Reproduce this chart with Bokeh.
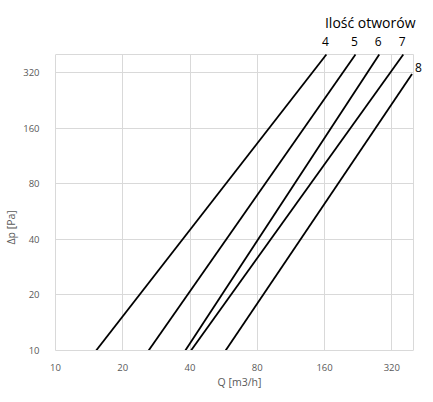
import math
from bokeh.plotting import figure
from bokeh.models import FixedTicker, Range1d, ColumnDataSource, Title
from bokeh.core.properties import value
from bokeh.embed import file_html
from bokeh.resources import INLINE

# Data (log-log lines, Q [m3/h] vs dp [Pa])
counts = ["4", "5", "6", "7", "8"]
q_start = [15.2, 26.1, 38.1, 40.4, 57.7]
p_start = [10, 10, 10, 10, 10]
q_end = [163, 220, 281, 360, 394]
p_end = [400, 400, 400, 400, 314]

x_ticks = [10, 20, 40, 80, 160, 320]
y_ticks = [10, 20, 40, 80, 160, 320]
x_tick_labels = ["10", "20", "40", "80", "160", "320"]
y_tick_labels = ["10", "20", "40", "80", "160", "320"]
axis_min, axis_max = 10, 400

title_text = "Ilość otworów"
x_label = "Q [m3/h]"
y_label = "Δp [Pa]"

FONT = "Open Sans"
GRAY_TXT = "#595959"
GRID = "#d9d9d9"

# layout (pixels)
BOX_W, BOX_H = 358, 296          # visible plot box
FRAME_W, FRAME_H = 368, 350      # frame incl. room for labels above/right
octaves = math.log2(axis_max / axis_min)
x_hi = axis_max * 2 ** ((FRAME_W - BOX_W) / (BOX_W / octaves))
y_hi = axis_max * 2 ** ((FRAME_H - BOX_H) / (BOX_H / octaves))

p = figure(frame_width=FRAME_W, frame_height=FRAME_H, x_axis_type="log", y_axis_type="log",
           x_range=Range1d(axis_min, x_hi), y_range=Range1d(axis_min, y_hi),
           output_backend="svg", toolbar_location=None,
           min_border_left=49, min_border_right=0, min_border_top=0, min_border_bottom=36)

p.background_fill_color = "white"
p.border_fill_color = "white"
p.outline_line_color = None

for ax, ticks, labels in ((p.xaxis, x_ticks, x_tick_labels), (p.yaxis, y_ticks, y_tick_labels)):
    ax.ticker = FixedTicker(ticks=ticks)
    ax.bounds = (axis_min, axis_max)
    ax.major_label_overrides = {t: l for t, l in zip(ticks, labels)}
    ax.major_tick_line_color = None
    ax.minor_tick_line_color = None
    ax.axis_line_color = GRID
    ax.major_label_text_font = FONT
    ax.major_label_text_font_size = "9.5px"
    ax.major_label_text_color = GRAY_TXT
    ax.axis_label_text_font = FONT
    ax.axis_label_text_font_size = "10.5px"
    ax.axis_label_text_color = GRAY_TXT
    ax.axis_label_text_font_style = "normal"

p.xaxis.axis_label = x_label
p.xaxis.major_label_standoff = 7
p.xaxis.axis_label_standoff = 1
p.yaxis.major_label_standoff = 10

# y label centred on the visible box (not the taller frame)
p.add_layout(Title(text=y_label, align="left", offset=106, standoff=4,
                   text_font=FONT, text_font_size="10.5px", text_font_style="normal",
                   text_color=GRAY_TXT, vertical_align="middle"), "left")

p.xgrid.ticker = FixedTicker(ticks=x_ticks + [axis_max])
p.ygrid.ticker = FixedTicker(ticks=y_ticks + [axis_max])
p.xgrid.cross_bounds = (axis_min, axis_max)
p.ygrid.cross_bounds = (axis_min, axis_max)
p.xgrid.grid_line_color = GRID
p.ygrid.grid_line_color = GRID
p.xgrid.minor_grid_line_color = None
p.ygrid.minor_grid_line_color = None

for qs, ps, qe, pe in zip(q_start, p_start, q_end, p_end):
    p.line([qs, qe], [ps, pe], line_color="black", line_width=1.8)

# number labels above the lines' upper ends
top = [i for i, pe in enumerate(p_end) if pe >= axis_max]
side = [i for i, pe in enumerate(p_end) if pe < axis_max]
src_top = ColumnDataSource(dict(x=[q_end[i] for i in top], y=[p_end[i] for i in top],
                                t=[counts[i] for i in top]))
src_side = ColumnDataSource(dict(x=[q_end[i] for i in side], y=[p_end[i] for i in side],
                                 t=[counts[i] for i in side]))
p.text(x="x", y="y", text="t", source=src_top, x_offset=-1, y_offset=-13,
       text_align="center", text_baseline="middle", text_font=value(FONT),
       text_font_size="12px", text_color="black")
p.text(x="x", y="y", text="t", source=src_side, x_offset=3, y_offset=-6,
       text_align="left", text_baseline="middle", text_font=value(FONT),
       text_font_size="12px", text_color="black")

p.text(x=[axis_max], y=[axis_max], text=[title_text], x_offset=2, y_offset=-32,
       text_align="right", text_baseline="middle", text_font=value(FONT),
       text_font_size="14px", text_color="black")

open("out.html", "w").write(file_html(p, INLINE))
